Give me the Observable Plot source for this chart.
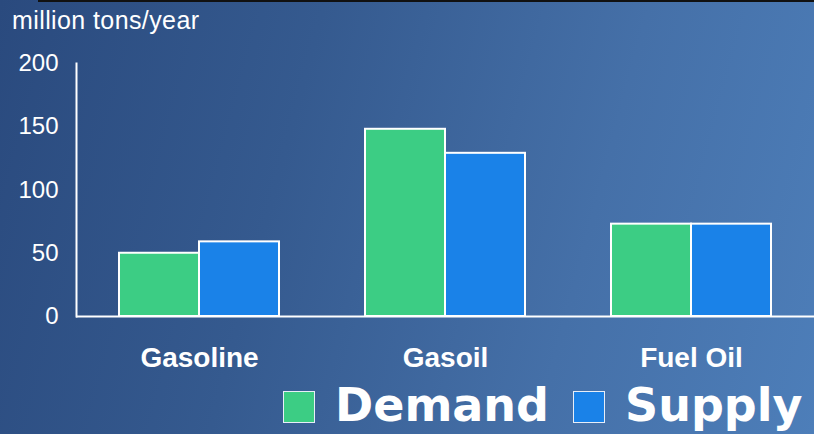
<!DOCTYPE html>
<html>
<head>
<meta charset="utf-8">
<script src="https://cdn.jsdelivr.net/npm/d3@7"></script>
<script src="https://cdn.jsdelivr.net/npm/@observablehq/plot@0.6"></script>
<style>
  html, body { margin: 0; padding: 0; }
  #page {
    position: relative; width: 814px; height: 434px; overflow: hidden;
    background: linear-gradient(105deg, #2a4a7e 0%, #355a8f 35%, #4570a8 70%, #4d7eb9 100%);
    font-family: "Liberation Sans", Arial, sans-serif; color: white;
  }
  #topline { position: absolute; left: 38px; top: 0; width: 776px; height: 2px; background: #111; }
  #title { position: absolute; left: 12px; top: 0; height: 40px; padding-top: 8px; box-sizing: border-box;
    font-size: 25px; line-height: 24px; letter-spacing: 0.4px; }
  #chart { position: absolute; left: 0; top: 40px; }
  #legend { position: absolute; left: 283px; top: 375px; height: 59px; display: flex; align-items: center;
    font-family: "DejaVu Sans", Verdana, sans-serif; font-weight: bold; font-size: 46px; }
  .item { display: flex; align-items: center; margin-right: 24px; }
  .sw { width: 30px; height: 30px; border: 1.5px solid #e8eef8; margin-right: 20px; margin-top: 4px; }
</style>
</head>
<body>
<div id="page">
  <div id="topline"></div>
  <div id="title"></div>
  <div id="chart"></div>
  <div id="legend"></div>
</div>
<script>
const yLabel = "million tons/year";
const categories = ["Gasoline", "Gasoil", "Fuel Oil"];
const series = ["Demand", "Supply"];
const demand = [50, 148, 73];
const supply = [59, 129, 73];
const yTicks = [0, 50, 100, 150, 200];
const colors = ["#3ccd84", "#1a82e8"];

const data = [];
categories.forEach((c, i) => {
  data.push({cat: c, series: "Demand", value: demand[i]});
  data.push({cat: c, series: "Supply", value: supply[i]});
});

document.getElementById("title").textContent = yLabel;

const chart = Plot.plot({
  width: 814,
  height: 335,
  marginLeft: 76,
  marginRight: 0,
  marginTop: 23,
  marginBottom: 59,
  style: {background: "transparent", color: "white", fontFamily: "'Liberation Sans', Arial, sans-serif", overflow: "visible"},
  fx: {domain: categories, padding: 0, label: null},
  x: {domain: series, paddingInner: 0, paddingOuter: 0.52, axis: null},
  y: {domain: [0, 200], label: null},
  color: {domain: series, range: colors},
  marks: [
    Plot.barY(data, {fx: "cat", x: "series", y: "value", fill: "series", stroke: "white", strokeWidth: 2}),
    Plot.ruleY([0], {stroke: "white", strokeWidth: 2}),
    Plot.frame({anchor: "left", facetAnchor: "left", stroke: "white", strokeWidth: 2}),
    Plot.axisY({ticks: yTicks, tickSize: 0, tickPadding: 18, label: null, fontSize: 24}),
    Plot.axisFx({anchor: "bottom", tickSize: 0, tickPadding: 31, fontSize: 28, fontWeight: "bold", label: null})
  ]
});
document.getElementById("chart").appendChild(chart);

const legend = document.getElementById("legend");
series.forEach((s, i) => {
  const item = document.createElement("div");
  item.className = "item";
  const sw = document.createElement("div");
  sw.className = "sw";
  sw.style.background = colors[i];
  const t = document.createElement("span");
  t.textContent = s;
  item.appendChild(sw);
  item.appendChild(t);
  legend.appendChild(item);
});
</script>
</body>
</html>
